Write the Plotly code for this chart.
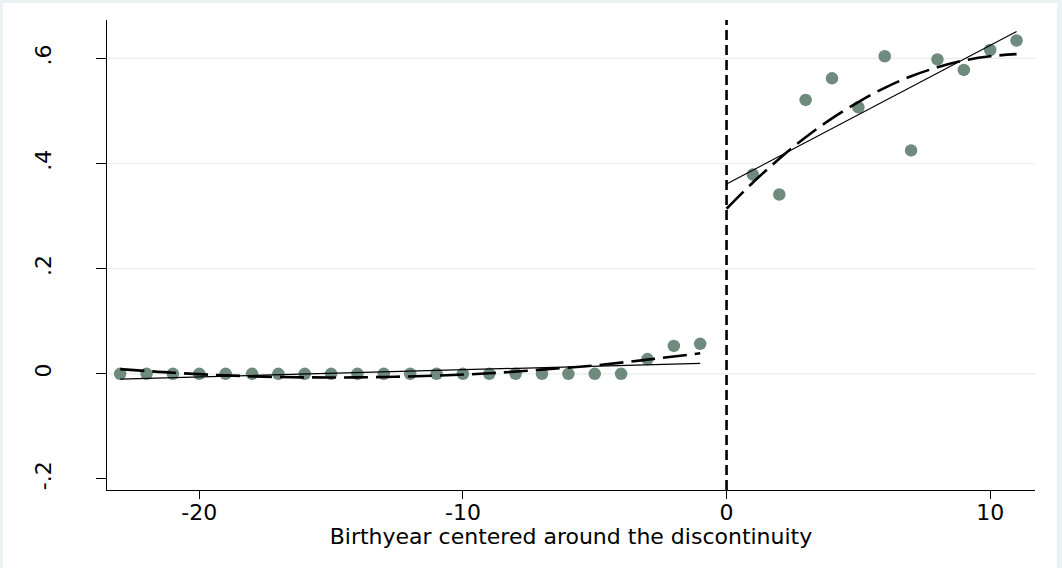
import plotly.graph_objects as go

# Binned means, birth cohorts before the discontinuity
left_x = list(range(-23, 0))
left_y = [0.0] * 20 + [0.028, 0.053, 0.057]

# Binned means, birth cohorts after the discontinuity
right_x = list(range(1, 12))
right_y = [0.379, 0.341, 0.521, 0.562, 0.507, 0.604, 0.425, 0.598, 0.578, 0.616, 0.634]

# Linear fits on each side
lin_left_x = [-23, -1]
lin_left_y = [-0.010, 0.020]
lin_right_x = [0, 11]
lin_right_y = [0.361, 0.651]

# Quadratic fits on each side
quad_left_x = [-23, -21, -19, -17, -15, -13, -11, -9, -7, -5, -3, -1]
quad_left_y = [0.009, 0.002, -0.003, -0.006, -0.007, -0.006, -0.0035, 0.001, 0.008, 0.016, 0.027, 0.039]
quad_right_x = list(range(0, 12))
quad_right_y = [0.314, 0.364, 0.409, 0.450, 0.486, 0.517, 0.544, 0.566, 0.583, 0.596, 0.604, 0.608]

x_ticks = [-20, -10, 0, 10]
x_tick_text = ["-20", "-10", "0", "10"]
y_ticks = [-0.2, 0, 0.2, 0.4, 0.6]
y_tick_text = ["-.2", "0", ".2", ".4", ".6"]
grid_values = [0, 0.2, 0.4, 0.6]
cutoff = 0

x_range = [-23.5, 11.7]
y_range = [-0.221, 0.673]

marker_color = "#6e8b7e"
band_color = "#eaf2f3"
font_family = "DejaVu Sans, Arial, sans-serif"

fig = go.Figure()

for xs, ys in [(left_x, left_y), (right_x, right_y)]:
    fig.add_trace(go.Scatter(
        x=xs, y=ys, mode="markers",
        marker=dict(color=marker_color, size=12.5, line=dict(width=0)),
        showlegend=False, hoverinfo="skip",
    ))

for xs, ys in [(lin_left_x, lin_left_y), (lin_right_x, lin_right_y)]:
    fig.add_trace(go.Scatter(
        x=xs, y=ys, mode="lines",
        line=dict(color="black", width=1.2),
        showlegend=False, hoverinfo="skip",
    ))

for xs, ys in [(quad_left_x, quad_left_y), (quad_right_x, quad_right_y)]:
    fig.add_trace(go.Scatter(
        x=xs, y=ys, mode="lines",
        line=dict(color="black", width=2.6, dash="24px,8px", shape="spline"),
        showlegend=False, hoverinfo="skip",
    ))

shapes = []
# white graph region inside the light outer band
shapes.append(dict(
    type="rect", xref="paper", yref="paper",
    x0=-0.1121, x1=1.0237, y0=-0.25, y1=1.0362,
    fillcolor="white", line=dict(width=0), layer="below",
))
for g in grid_values:
    shapes.append(dict(
        type="line", xref="paper", yref="y", x0=0, x1=1, y0=g, y1=g,
        line=dict(color="#e6eef0", width=1.2), layer="below",
    ))
shapes.append(dict(
    type="line", xref="x", yref="paper", x0=cutoff, x1=cutoff, y0=0, y1=1,
    line=dict(color="black", width=2.6, dash="10px,5px"), layer="above",
))

fig.update_layout(
    width=1062, height=568,
    margin=dict(l=107, r=27, t=20, b=78),
    paper_bgcolor=band_color,
    plot_bgcolor="white",
    shapes=shapes,
    font=dict(family=font_family, color="black", size=22),
    xaxis=dict(
        range=x_range, tickvals=x_ticks, ticktext=x_tick_text,
        showgrid=False, zeroline=False,
        showline=True, linecolor="black", linewidth=1.2,
        ticks="outside", ticklen=8, tickcolor="black", tickwidth=1.2,
        ticklabelstandoff=-6,
        title=dict(text="Birthyear centered around the discontinuity",
                   font=dict(size=22), standoff=0),
    ),
    yaxis=dict(
        range=y_range, tickvals=y_ticks, ticktext=y_tick_text,
        showgrid=False, zeroline=False,
        showline=True, linecolor="black", linewidth=1.2,
        ticks="outside", ticklen=10, tickcolor="black", tickwidth=1.2,
        tickangle=-90, ticklabelstandoff=36,
    ),
)

fig.write_html("out.html")
